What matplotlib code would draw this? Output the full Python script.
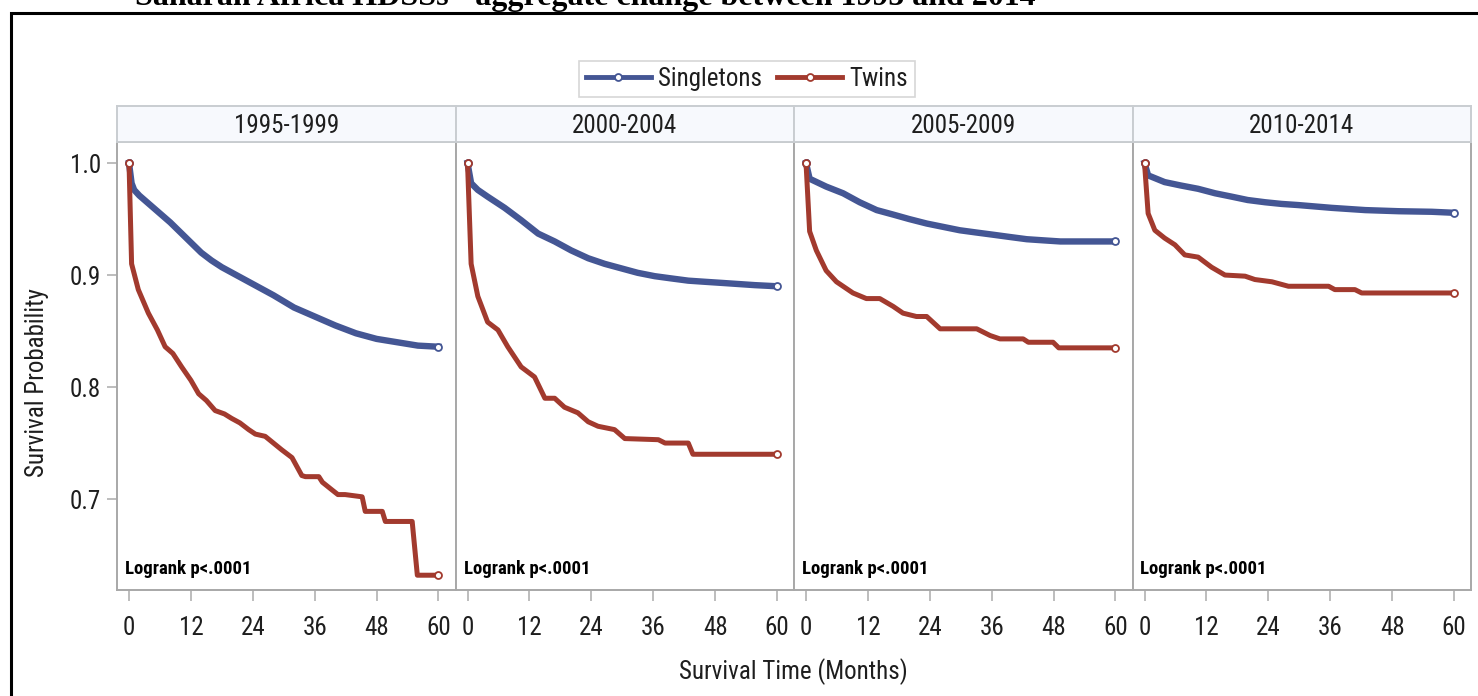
import matplotlib.pyplot as plt
import matplotlib.font_manager as fm
from matplotlib.lines import Line2D
from matplotlib.patches import Rectangle

# ---- data ----
periods = ['1995-1999', '2000-2004', '2005-2009', '2010-2014']

single_t = [
    [0, 0.5, 1, 2, 4, 6, 8, 10, 12, 14, 16, 18, 20, 24, 28, 32, 36, 40, 44, 48, 52, 56, 60],
    [0, 0.7, 2, 3.9, 7.2, 10.4, 13.7, 16.9, 20.1, 23.4, 26.6, 29.8, 33, 36.3, 39.5, 42.8, 46, 49.3, 52.5, 55.7, 60],
    [0, 0.7, 3.9, 7.2, 10.4, 13.7, 16.9, 20, 23.4, 26.6, 29.8, 33, 36.3, 39.5, 42.8, 46, 49.3, 55, 60],
    [0, 0.7, 3.9, 7, 10.4, 13.7, 16.9, 20, 23.4, 26.6, 29.8, 36.3, 42.8, 49.3, 55.7, 60],
]
single_s = [
    [1.0, 0.982, 0.976, 0.971, 0.963, 0.955, 0.947, 0.938, 0.929, 0.920, 0.913, 0.907, 0.902,
     0.892, 0.882, 0.871, 0.863, 0.855, 0.848, 0.843, 0.840, 0.837, 0.836],
    [1.0, 0.982, 0.976, 0.970, 0.960, 0.949, 0.937, 0.930, 0.922, 0.915, 0.910, 0.906, 0.902,
     0.899, 0.897, 0.895, 0.894, 0.893, 0.892, 0.891, 0.890],
    [1.0, 0.986, 0.979, 0.973, 0.965, 0.958, 0.954, 0.950, 0.946, 0.943, 0.940, 0.938, 0.936,
     0.934, 0.932, 0.931, 0.930, 0.930, 0.930],
    [1.0, 0.989, 0.983, 0.980, 0.977, 0.973, 0.970, 0.967, 0.965, 0.9635, 0.9625, 0.960, 0.958,
     0.957, 0.9565, 0.9556],
]

twin_t = [
    [0, 0.5, 1.8, 3.75, 5.5, 7, 8.5, 10.2, 12, 13.5, 15, 16.7, 18.5, 19.9, 21.5, 23.2, 24.5, 26.4,
     28, 29.6, 31.6, 33.5, 34.2, 36.8, 37.5, 39.4, 40.5, 41.9, 45.2, 45.8, 49.1, 49.7, 54.9, 55.9, 60],
    [0, 0.7, 2.0, 3.9, 5.9, 7.8, 10.4, 13.0, 15.0, 16.9, 18.8, 21.4, 23.4, 25.3, 28.5, 30.5, 37.0,
     38.3, 42.8, 43.7, 60],
    [0, 0.7, 2.0, 3.9, 5.9, 9.1, 11.7, 14.3, 16.9, 18.8, 21.4, 23.4, 26.0, 33.1, 35.7, 37.6, 42.1,
     43.1, 47.9, 49.0, 60],
    [0, 0.7, 2.0, 3.9, 5.9, 7.8, 10.4, 13.0, 15.6, 19.5, 21.4, 24.7, 27.9, 35.7, 36.9, 40.8, 42.1, 60],
]
twin_s = [
    [1.0, 0.910, 0.887, 0.866, 0.851, 0.836, 0.830, 0.818, 0.806, 0.794, 0.788, 0.779, 0.776, 0.772,
     0.768, 0.762, 0.758, 0.756, 0.750, 0.744, 0.737, 0.721, 0.720, 0.720, 0.715, 0.708, 0.704, 0.704,
     0.702, 0.689, 0.689, 0.680, 0.680, 0.632, 0.632],
    [1.0, 0.910, 0.881, 0.858, 0.851, 0.836, 0.818, 0.809, 0.790, 0.790, 0.782, 0.777, 0.769, 0.765,
     0.762, 0.754, 0.753, 0.750, 0.750, 0.740, 0.740],
    [1.0, 0.939, 0.922, 0.904, 0.894, 0.884, 0.879, 0.879, 0.872, 0.866, 0.863, 0.863, 0.852, 0.852,
     0.846, 0.843, 0.843, 0.840, 0.840, 0.835, 0.835],
    [1.0, 0.955, 0.940, 0.933, 0.927, 0.918, 0.916, 0.907, 0.900, 0.899, 0.896, 0.894, 0.890, 0.890,
     0.887, 0.887, 0.884, 0.884],
]

x_ticks = [0, 12, 24, 36, 48, 60]
y_ticks = [0.7, 0.8, 0.9, 1.0]
pval_text = 'Logrank p<.0001'


# ---- pick a narrow sans font if one is installed (the original uses Arial Narrow) ----
def is_narrow(f):
    st = f.stretch
    if isinstance(st, str) and 'condensed' in st and 'semi' not in st and 'extra' not in st \
            and 'ultra' not in st:
        return True
    return 'Narrow' in f.name or ('Condensed' in f.name and 'Semi' not in f.name)


fam, stretch = 'Liberation Sans', 'normal'
narrow = [f for f in fm.fontManager.ttflist if is_narrow(f)]
for pref in ['Liberation Sans Narrow', 'Arial Narrow', 'Noto Sans', 'Roboto Condensed',
             'Roboto', 'Open Sans', 'DejaVu Sans']:
    hit = [f for f in narrow if f.name == pref]
    if hit:
        fam, stretch = pref, hit[0].stretch
        break

plt.rcParams['font.family'] = [fam, 'Liberation Sans', 'DejaVu Sans']
plt.rcParams['font.stretch'] = stretch

BLUE = '#445694'
RED = '#A23A2E'
GRID_GREY = '#A8A8A8'
TXT = '#1E1E1E'

W, H = 1478, 696
fig = plt.figure(figsize=(W / 100, H / 100), dpi=100)


def box(x0, y0, x1, y1):
    # pixel box (top-left origin) -> figure fraction rect
    return [x0 / W, 1 - y1 / H, (x1 - x0) / W, (y1 - y0) / H]


# cut-off caption line at the very top
fig.text(135 / W, 1 - 5 / H, 'Saharan Africa HDSSs - aggregate change between 1995 and 2014',
         family='Liberation Serif', stretch='normal', fontweight='bold', fontsize=23,
         va='baseline', ha='left')

# black frame around the graphic (right and bottom edges lie outside the picture)
fig.add_artist(Rectangle((11 / W, -0.05), 1.05, 1 - 13 / H + 0.05,
                         transform=fig.transFigure, fill=False, ec='black', lw=2.2))

pw = 338.5
for i, period in enumerate(periods):
    x0 = 117 + i * pw
    ax = fig.add_axes(box(x0, 142, x0 + pw, 590))
    ax.plot(single_t[i], single_s[i], color=BLUE, lw=4.6, solid_joinstyle='round',
            marker='o', markevery=[0, len(single_t[i]) - 1], ms=5, mfc='white', mec=BLUE, mew=1.3)
    ax.plot(twin_t[i], twin_s[i], color=RED, lw=3.6, solid_joinstyle='round',
            marker='o', markevery=[0, len(twin_t[i]) - 1], ms=5, mfc='white', mec=RED, mew=1.3)
    ax.set_xlim(-2.33, 63.3)
    ax.set_ylim(0.6188, 1.0188)
    ax.set_xticks(x_ticks)
    ax.set_yticks(y_ticks)
    ax.tick_params(axis='x', direction='out', length=8, width=1.4, color='#BDBDBD',
                   pad=11, labelsize=18, labelcolor=TXT)
    if i == 0:
        ax.tick_params(axis='y', direction='out', length=7.5, width=1.4, color='#BDBDBD',
                       pad=4, labelsize=18, labelcolor=TXT)
        ax.set_yticklabels(['%.1f' % v for v in y_ticks])
    else:
        ax.tick_params(axis='y', left=False, labelleft=False)
    for sp in ax.spines.values():
        sp.set_color(GRID_GREY)
        sp.set_linewidth(1.4)
    ax.text(8 / pw, 16 / 448, pval_text, transform=ax.transAxes, fontsize=13.5,
            fontweight='bold', color='black', va='baseline', ha='left')

    # header strip
    hx = fig.add_axes(box(x0, 106, x0 + pw, 142))
    hx.set_facecolor('#F7F9FD')
    hx.set_xticks([])
    hx.set_yticks([])
    for sp in hx.spines.values():
        sp.set_color('#C9CDD1')
        sp.set_linewidth(1.4)
    hx.text(0.5, 0.45, period, ha='center', va='center', fontsize=18, color=TXT,
            transform=hx.transAxes)

fig.text(37 / W, 1 - 383 / H, 'Survival Probability', rotation=90, ha='center', va='center',
         fontsize=18, color=TXT)
fig.text(793 / W, 1 - 672 / H, 'Survival Time (Months)', ha='center', va='center',
         fontsize=18, color=TXT)

handles = [
    Line2D([], [], color=BLUE, lw=3.5, marker='o', ms=5, mfc='white', mec=BLUE, mew=1.3),
    Line2D([], [], color=RED, lw=3.5, marker='o', ms=5, mfc='white', mec=RED, mew=1.3),
]
leg = fig.legend(handles, ['Singletons', 'Twins'], loc='center', bbox_to_anchor=(747 / W, 1 - 79 / H),
                 ncol=2, fontsize=18, frameon=True, fancybox=False, handlelength=2.6,
                 handletextpad=0.3, columnspacing=0.6, borderpad=0.25, borderaxespad=0)
leg.get_frame().set_edgecolor('#CCCCCC')
leg.get_frame().set_linewidth(1.2)
for t in leg.get_texts():
    t.set_color(TXT)

fig.savefig('out.png', dpi=100)
